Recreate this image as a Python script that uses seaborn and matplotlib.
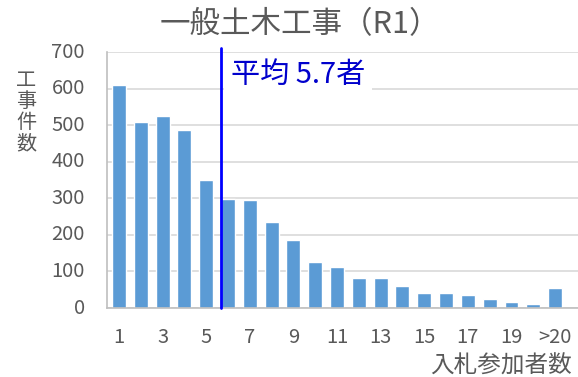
import matplotlib
matplotlib.use("Agg")
import matplotlib.pyplot as plt
import matplotlib.transforms as mtransforms
import seaborn as sns
import pandas as pd

# Number of bidders per contract and how many contracts had that count
participants = ["1", "2", "3", "4", "5", "6", "7", "8", "9", "10",
                "11", "12", "13", "14", "15", "16", "17", "18", "19", "20", ">20"]
contracts = [611, 508, 526, 488, 350, 298, 295, 234, 187, 127,
             111, 81, 81, 61, 42, 42, 36, 24, 16, 11, 55]
shown_ticks = ["1", "3", "5", "7", "9", "11", "13", "15", "17", "19", ">20"]
y_ticks = [0, 100, 200, 300, 400, 500, 600, 700]
mean_participants = 5.7

title = "一般土木工事（R1）"
y_label = "工\n事\n件\n数"
x_label = "入札参加者数"

sns.set_theme(style="white")
plt.rcParams["font.family"] = ["Noto Sans CJK JP", "DejaVu Sans"]

grey = "#595959"
bar_blue = "#5B9BD5"

df = pd.DataFrame({"participants": participants, "contracts": contracts})

W, H = 578, 377
fig = plt.figure(figsize=(W / 100, H / 100), dpi=100)
ax = fig.add_axes([107 / W, 1 - 308 / H, (578 - 107) / W, (308 - 52) / H])

sns.barplot(data=df, x="participants", y="contracts", order=participants,
            color=bar_blue, saturation=1, width=0.64, ax=ax, zorder=2)

ax.set_ylim(0, 700)
ax.set_xlim(-0.55, len(participants) - 1 + 1.05)
ax.set_yticks(y_ticks)
ax.set_yticklabels([])
ax.yaxis.grid(True, color="#D9D9D9", linewidth=1.2, zorder=0)
ax.set_axisbelow(True)

# value labels for the y axis, right-aligned a fixed distance left of the frame
ytrans = mtransforms.blended_transform_factory(fig.transFigure, ax.transData)
for v in y_ticks:
    ax.text(85 / W, v, str(v), transform=ytrans, ha="right", va="center",
            fontsize=14.5, color=grey, clip_on=False)

pos = [participants.index(t) for t in shown_ticks]
ax.set_xticks(pos)
ax.set_xticklabels(shown_ticks)
ax.tick_params(axis="both", length=0, labelsize=14.5, labelcolor=grey)
ax.tick_params(axis="x", pad=14)
ax.set_xlabel("")
ax.set_ylabel("")

for side in ["top", "right"]:
    ax.spines[side].set_visible(False)
for side in ["left", "bottom"]:
    ax.spines[side].set_color("#BFBFBF")
    ax.spines[side].set_linewidth(1.2)

# Average-participants marker (category "n" sits at index n-1)
mx = mean_participants - 1
ax.plot([mx, mx], [0, 712], color="#0000FF", linewidth=2, clip_on=False, zorder=4)
ax.text(mx + 0.42, 637, f"平均 {mean_participants}者", color="#0000CC", fontsize=21,
        va="center", ha="left", zorder=3,
        bbox=dict(facecolor="white", edgecolor="none", pad=5))

fig.text(300 / W, 1 - 25 / H, title, color=grey, fontsize=22, ha="center", va="center")
fig.text(26 / W, 1 - 112 / H, y_label, color=grey, fontsize=14.5, ha="center", va="center",
         linespacing=1.02)
fig.text(572 / W, 1 - 366 / H, x_label, color=grey, fontsize=17, ha="right", va="center")

fig.savefig("out.png", dpi=100)
